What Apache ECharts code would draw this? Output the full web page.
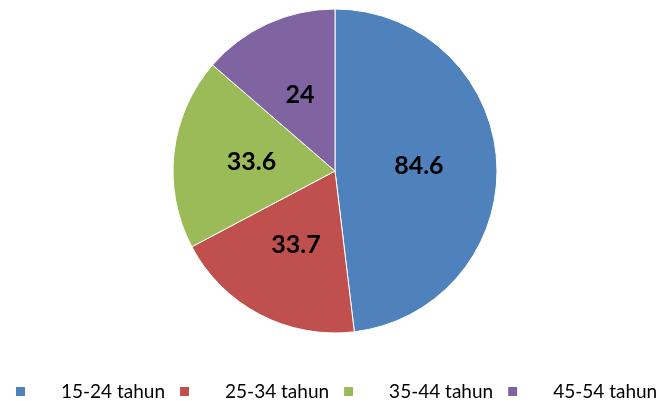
<!DOCTYPE html>
<html>
<head>
<meta charset="utf-8">
<script src="https://cdn.jsdelivr.net/npm/echarts@6/dist/echarts.min.js"></script>
<style>
  html, body { margin: 0; padding: 0; background: #fff; }
  #chart { width: 670px; height: 401px; }
</style>
</head>
<body>
<div id="chart"></div>
<script>
const categories = ['15-24 tahun', '25-34 tahun', '35-44 tahun', '45-54 tahun']
const values = [84.6, 33.7, 33.6, 24]
const colors = ['#4F81BD', '#C0504D', '#9BBB59', '#8064A2']

const chart = echarts.init(document.getElementById('chart'))

chart.setOption({
  animation: false,
  color: colors,
  legend: {
    data: categories,
    left: 9,
    top: 377,
    itemWidth: 11,
    itemHeight: 11,
    itemGap: 13,
    icon: 'rect',
    textStyle: {
      fontFamily: 'Lato',
      fontSize: 19,
      color: '#000',
      padding: [0, 0, 0, 30]
    }
  },
  series: [
    {
      type: 'pie',
      center: [335, 171],
      radius: 162,
      startAngle: 90,
      clockwise: true,
      itemStyle: {
        borderColor: '#fff',
        borderWidth: 1
      },
      label: {
        show: true,
        position: 'inside',
        formatter: '{c}',
        fontFamily: 'Lato',
        fontWeight: 'bold',
        fontSize: 25,
        color: '#000'
      },
      labelLine: { show: false },
      data: categories.map((name, i) => ({ name, value: values[i] }))
    }
  ]
})
</script>
</body>
</html>
